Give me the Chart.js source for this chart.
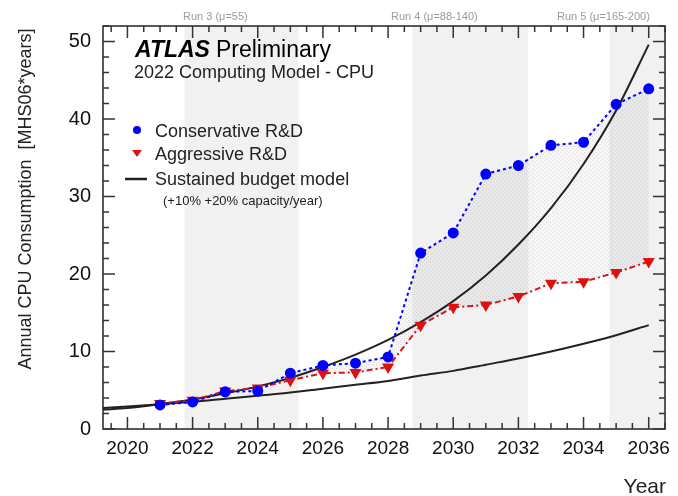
<!DOCTYPE html>
<html>
<head>
<meta charset="utf-8">
<script src="https://cdn.jsdelivr.net/npm/chart.js@4"></script>
<style>
  body { margin: 0; background: #fff; }
</style>
</head>
<body>
<canvas id="cpuChart" width="678" height="496"></canvas>
<script>
const years = [2021, 2022, 2023, 2024, 2025, 2026, 2027, 2028, 2029, 2030, 2031, 2032, 2033, 2034, 2035, 2036];
const conservative = [3.1, 3.5, 4.8, 4.9, 7.2, 8.2, 8.5, 9.3, 22.7, 25.3, 32.9, 34.0, 36.6, 37.0, 41.9, 43.9];
const aggressive = [3.3, 3.7, 4.9, 5.3, 6.3, 7.2, 7.3, 8.0, 13.4, 15.7, 16.0, 17.1, 18.8, 19.0, 20.2, 21.6];

// sustained budget model
const budgetYears = [2019.25, 2020, 2021, 2022, 2023, 2024, 2025, 2026, 2027, 2028, 2029, 2030, 2031, 2032, 2033, 2034, 2035, 2036];
const budgetLow = [2.7, 2.9, 3.2, 3.5, 3.9, 4.3, 4.7, 5.2, 5.7, 6.2, 6.9, 7.5, 8.3, 9.1, 10.0, 11.0, 12.1, 13.4];
const budgetHigh = [2.5, 2.7, 3.2, 3.8, 4.6, 5.5, 6.6, 8.0, 9.6, 11.5, 13.8, 16.5, 19.8, 23.8, 28.5, 34.2, 41.1, 49.6];

const runLabels = ["Run 3 (\u03bc=55)", "Run 4 (\u03bc=88-140)", "Run 5 (\u03bc=165-200)"];
const runStart = [2021.75, 2028.75, 2034.8];
const runEnd = [2025.25, 2032.3, 2036.5];

const FONT = '"Liberation Sans", Arial, sans-serif';

function toPoints(xs, ys) {
  return xs.map((x, i) => ({ x: x, y: ys[i] }));
}

function hatchPattern() {
  const c = document.createElement("canvas");
  c.width = 4;
  c.height = 4;
  const g = c.getContext("2d");
  g.fillStyle = "rgba(0,0,0,0.035)";
  g.fillRect(0, 0, 4, 4);
  g.fillStyle = "rgba(0,0,0,0.11)";
  g.fillRect(0, 0, 1, 1);
  g.fillRect(2, 2, 1, 1);
  return g.createPattern(c, "repeat");
}

const bandsPlugin = {
  id: "bands",
  beforeDraw(chart) {
    const { ctx, chartArea: a, scales: { x } } = chart;
    ctx.save();
    ctx.fillStyle = "#f1f1f1";
    runStart.forEach((s, i) => {
      const x0 = Math.max(x.getPixelForValue(s), a.left);
      const x1 = Math.min(x.getPixelForValue(runEnd[i]), a.right);
      ctx.fillRect(x0, a.top, x1 - x0, a.bottom - a.top);
    });
    ctx.restore();
  }
};

const framePlugin = {
  id: "frame",
  afterDraw(chart) {
    const c = chart.ctx;
    const a = chart.chartArea;
    const xs = chart.scales.x;
    const ys = chart.scales.y;
    c.save();
    c.lineWidth = 1.5;
    c.strokeStyle = "#222";
    c.strokeRect(a.left, a.top, a.right - a.left, a.bottom - a.top);

    // ROOT style ticks on all four sides
    const xmin = xs.min, xmax = xs.max, ymin = ys.min, ymax = ys.max;
    const w = a.right - a.left, h = a.bottom - a.top;
    c.beginPath();
    c.lineWidth = 1.5;
    c.strokeStyle = "#333";
    for (let i = 0; i <= 34; i++) {
      const v = 2019.5 + i * 0.5;
      const px = a.left + (v - xmin) / (xmax - xmin) * w;
      const len = (i % 4 === 1) ? 12 : 6;
      c.moveTo(px, a.bottom);
      c.lineTo(px, a.bottom - len);
      c.moveTo(px, a.top);
      c.lineTo(px, a.top + len);
    }
    for (let i = 0; i <= 26; i++) {
      const py = a.bottom - (i * 2 - ymin) / (ymax - ymin) * h;
      const len = (i % 5 === 0) ? 12 : 6;
      c.moveTo(a.left, py);
      c.lineTo(a.left + len, py);
      c.moveTo(a.right, py);
      c.lineTo(a.right - len, py);
    }
    c.stroke();

    // run labels above the frame
    c.fillStyle = "#9a9a9a";
    c.font = "11px " + FONT;
    c.textBaseline = "middle";
    c.textAlign = "left";
    const runX = [183, 391, 557];
    runLabels.forEach((t, i) => c.fillText(t, runX[i], 17));

    // ATLAS label
    c.fillStyle = "#000";
    c.textBaseline = "alphabetic";
    c.font = "italic bold 23px " + FONT;
    c.fillText("ATLAS", 135, 57);
    const aw = c.measureText("ATLAS").width;
    c.font = "23px " + FONT;
    c.fillText("Preliminary", 135 + aw + 6, 57);
    c.fillStyle = "#222";
    c.font = "18px " + FONT;
    c.fillText("2022 Computing Model - CPU", 134, 78);

    // legend
    c.fillText("Conservative R&D", 155, 137);
    c.fillText("Aggressive R&D", 155, 160);
    c.fillText("Sustained budget model", 155, 185);
    c.font = "13px " + FONT;
    c.fillText("(+10% +20% capacity/year)", 163, 205);

    c.fillStyle = "#0000ff";
    c.beginPath();
    c.arc(137, 130, 4, 0, Math.PI * 2);
    c.fill();
    c.fillStyle = "#dd1111";
    c.beginPath();
    c.moveTo(132, 150); c.lineTo(142, 150); c.lineTo(137, 157);
    c.closePath();
    c.fill();
    c.strokeStyle = "#222";
    c.lineWidth = 2.5;
    c.beginPath();
    c.moveTo(125, 179); c.lineTo(147, 179);
    c.stroke();

    // axis titles
    c.fillStyle = "#222";
    c.font = "18px " + FONT;
    c.save();
    c.translate(26, 199);
    c.rotate(-Math.PI / 2);
    c.textAlign = "center";
    c.textBaseline = "middle";
    c.fillText("Annual CPU Consumption  [MHS06*years]", 0, 0);
    c.restore();
    c.font = "21px " + FONT;
    c.textAlign = "right";
    c.fillText("Year", 666, 493);
    c.restore();
  }
};

new Chart(document.getElementById("cpuChart"), {
  type: "line",
  data: {
    datasets: [
      {
        label: "Conservative R&D",
        data: toPoints(years, conservative),
        borderColor: "#0000ff",
        borderWidth: 2,
        borderDash: [3, 3],
        pointRadius: 4.5,
        pointBackgroundColor: "#0000ff",
        pointBorderColor: "#0000ff",
        fill: "+1",
        backgroundColor: hatchPattern(),
        order: 0
      },
      {
        label: "Aggressive R&D",
        data: toPoints(years, aggressive),
        borderColor: "#dd1111",
        borderWidth: 2,
        borderDash: [6, 3, 2, 3],
        pointStyle: "triangle",
        rotation: 180,
        pointRadius: 5,
        pointBackgroundColor: "#dd1111",
        pointBorderColor: "#dd1111",
        fill: false,
        order: 1
      },
      {
        label: "Sustained budget +20%",
        data: toPoints(budgetYears, budgetHigh),
        borderColor: "#222",
        borderWidth: 2,
        pointRadius: 0,
        cubicInterpolationMode: "monotone",
        fill: false,
        order: 2
      },
      {
        label: "Sustained budget +10%",
        data: toPoints(budgetYears, budgetLow),
        borderColor: "#222",
        borderWidth: 2,
        pointRadius: 0,
        cubicInterpolationMode: "monotone",
        fill: false,
        order: 3
      }
    ]
  },
  options: {
    responsive: false,
    animation: false,
    layout: { padding: { top: 26, right: 13, left: 0, bottom: 0 } },
    plugins: {
      legend: { display: false },
      tooltip: { enabled: false },
      filler: { drawTime: "beforeDatasetsDraw" }
    },
    scales: {
      x: {
        type: "linear",
        min: 2019.25,
        max: 2036.5,
        grid: { display: false },
        border: { display: false },
        ticks: {
          stepSize: 2,
          includeBounds: false,
          autoSkip: false,
          maxRotation: 0,
          padding: 0,
          color: "#111",
          font: { family: FONT, size: 19 },
          callback: v => String(v)
        },
        afterFit: s => { s.height = 67; }
      },
      y: {
        min: 0,
        max: 52,
        grid: { display: false },
        border: { display: false },
        ticks: {
          stepSize: 10,
          includeBounds: false,
          padding: 4,
          color: "#111",
          font: { family: FONT, size: 20 }
        },
        afterFit: s => { s.width = 103; }
      }
    }
  },
  plugins: [bandsPlugin, framePlugin]
});
</script>
</body>
</html>
